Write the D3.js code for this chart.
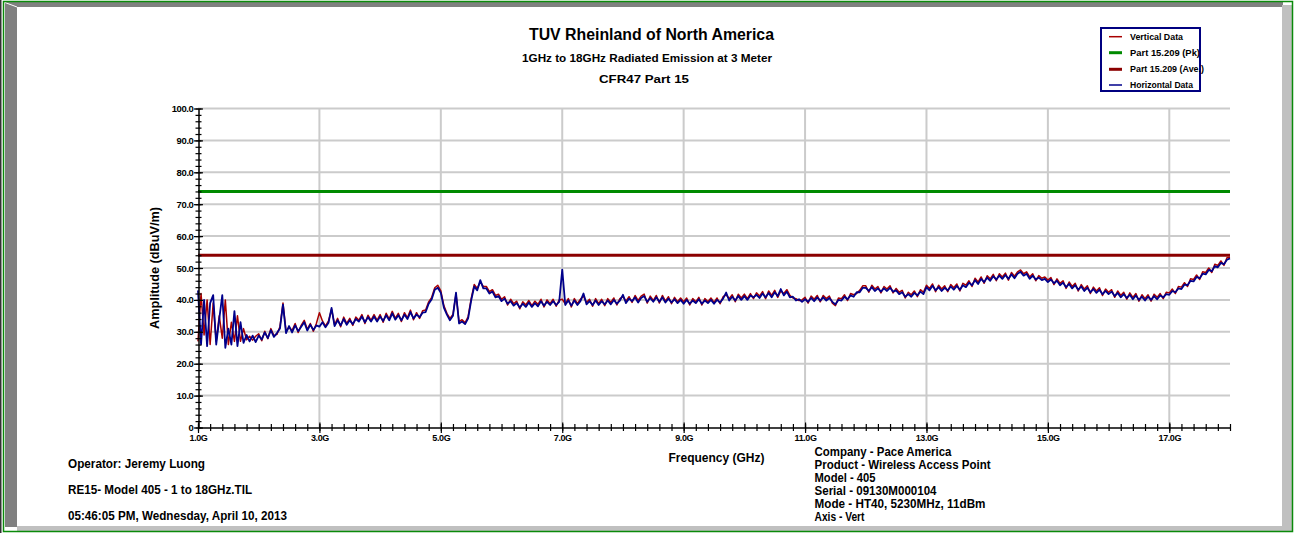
<!DOCTYPE html>
<html><head><meta charset="utf-8">
<script src="https://cdn.jsdelivr.net/npm/d3@7"></script>
<style>
body{margin:0;background:#fff;}
svg{display:block;}
text{font-family:"Liberation Sans",Arial,sans-serif;font-weight:bold;fill:#000;}
</style>
</head><body>
<svg id="chart" width="1296" height="533"></svg>
<script>
// ---- data ----
const freqStartGHz = 1.0, freqStepGHz = 0.05;
const horizontalData = [
 43,26,40,25.5,39,41.5,26,34,41.5,25,31,26,36.5,25.5,33,26.5,29,27,28.8,26.8,
 28.8,27.6,29.8,28,30.5,28.4,29.6,31,38.5,29.6,31.8,29.8,32,30.2,31.6,33,30.4,32.2,30.6,32,
 31.6,33,31.4,32.8,37.5,31.8,33.6,32,34,32.2,33.6,32.4,34,33.2,34.8,33,34.6,33.2,34.8,33.2,
 34.8,33.4,35.2,33.6,35.8,33.8,35.2,33.6,35.4,34,36.2,34.2,35.4,34.6,36,36.2,38.8,40.2,43.2,43.8,
 42.2,37.6,35.4,33.6,35,42.3,32.6,33.2,32.4,34.2,39.8,44.2,43,46.2,43.6,43.6,42,42.6,40.8,41.2,
 39.6,40.4,38.8,39.6,38.2,39,37.6,38.8,37.8,39.2,37.8,39,38,39.6,38.2,39.4,38.4,39.6,38.4,39.4,
 49.5,38.4,39.8,38.2,39.8,38.4,39.6,42,38.6,39.6,38.4,39.8,38.4,39.6,38.6,39.8,38.6,40,38.8,39.8,
 41.6,39,40.4,39.6,40.8,39.2,40.6,41.2,39.4,40.6,39.4,40.8,39.4,40.8,39.2,40.4,39.2,40.2,39,40,
 38.8,40,38.8,39.8,39,40.2,38.8,39.8,39,40,38.8,40,39.2,40.4,42.3,39.8,41,39.8,41.2,40,
 41.2,40,41.4,40.8,41.6,40.6,42,40.8,42.2,40.8,42.4,41.2,43.4,41.4,42.6,40.8,41,39.8,40.2,39.4,
 40.2,39.4,40.6,39.6,40.8,39.8,40.8,39.8,40.6,39.4,38.6,40,39.8,41,40.2,41.4,41,42.4,42.4,43.8,
 43.8,42.8,44,42.8,43.6,42.6,43.6,42.8,43.8,42.6,43,41.8,42.4,41,41.8,41,42.2,41.4,42.6,41.8,
 44,43,44.4,43,44,42.8,43.8,43,44.2,43.2,44.4,43.2,44.6,44,45.4,44.6,46.2,45,46.6,45.6,
 47,46,47.4,46.4,47.6,46.6,47.8,46.6,48,46.8,48.2,48.8,47.6,48.2,46.6,47.6,46.4,47,46.2,46.6,
 45.6,46.4,45.2,46,44.6,45.4,44,45,43.6,44.6,43.2,44.2,42.8,43.8,42.4,43.4,42.2,43.2,41.8,42.8,
 41.8,42.6,41.2,42.2,40.8,41.8,40.6,41.6,40.2,41.4,40,41,39.8,41,40,41.2,40.2,41.4,40.8,41.8,
 41.6,42.8,42.4,43.6,43.4,44.8,44.6,46,45.8,47.2,46.8,48.2,48,49.4,49,50.6,50.2,51.6,51.2,52.6,53
];
const verticalData = [
 27,42,29,40,26,39,27,35,28,40,26,33,27,35,27,31,27.5,28.6,27.4,28.6,
 29.4,27.2,30.2,27.8,31,28.8,29.2,31.6,39,30.2,31.4,30.4,32.6,29.8,32,33.6,30.8,32.6,30.2,32.6,
 36,33.4,31.8,33.4,37,32.2,34.2,31.6,34.6,32.6,34.2,32,34.6,33.6,35.4,32.6,35.2,33.6,35.4,33.6,
 35.4,33,35.8,34,36.4,34.2,35.8,33.2,36,34.4,36.8,33.8,36,34.2,36.6,36.8,39.4,40.8,43.8,44.6,
 42.8,38.2,35.8,34.2,35.4,41.8,33.2,33.8,32.8,34.8,40.4,44.8,43.6,45.6,44.2,44.2,42.6,43.2,41.4,41.8,
 40.2,41,38.4,40.2,38.8,39.6,37.2,39.4,38.4,39.8,38.2,39.6,38.6,40.2,37.8,40,38.8,40.2,38,40,
 40.2,38.8,40.4,37.8,40.4,38.8,40.2,41.2,39.2,40.2,38,40.4,38.8,40.2,38.2,40.4,39.2,40.6,38.4,40.4,
 41,39.6,41,39.2,41.4,39.8,41.2,41.8,39,41.2,39.8,41.4,39,41.4,39.6,41,38.8,40.8,39.4,40.6,
 39.4,40.6,38.4,40.4,39.4,40.8,38.4,40.4,39.4,40.6,39.2,40.6,38.8,41,41.6,40.4,41.6,39.4,41.8,40.6,
 41.8,40.4,42,40.4,42.2,41.2,42.6,40.4,42.8,41.4,43,40.8,42.8,42,43.2,41.4,40.6,40.4,39.8,40,
 40.8,39,41.2,40.2,41.4,39.4,41.4,40.4,41.2,39,38.2,40.6,40.4,41.6,39.8,42,41.6,42,43,44.4,
 44.4,42.4,44.6,43.4,44.2,42.2,44.2,43.4,44.4,42.2,43.6,42.4,43,40.6,42.4,41.6,42.8,41,43.2,42.4,
 44.6,43.6,45,42.6,44.6,43.4,44.4,42.6,44.8,43.8,45,42.8,45.2,44.6,46,44.2,46.8,45.6,47.2,45.2,
 47.6,46.6,48,46,48.2,47.2,48.4,46.2,48.6,47.4,48.8,49.4,48.2,48.8,47.2,48.2,46,47.6,46.8,47.2,
 46.2,47,44.8,46.6,45.2,46,43.6,45.6,44.2,45.2,42.8,44.8,43.4,44.4,42,44,42.8,43.8,41.4,43.4,
 42.4,43.2,40.8,42.8,41.4,42.4,40.2,42.2,40.8,42,39.6,41.6,40.4,41.6,39.6,41.8,40.8,42,40.4,42.4,
 42.2,43.4,42,44.2,44,45.4,44.2,46.6,46.4,47.8,46.4,48.8,48.6,50,48.6,51.2,50.8,52.2,50.8,53.2,53.4
];
const limitPk = 74;
const limitAve = 54;
const xMajorTicks = [1,3,5,7,9,11,13,15,17];
const xTickLabels = ["1.0G","3.0G","5.0G","7.0G","9.0G","11.0G","13.0G","15.0G","17.0G"];
const yMajorTicks = [0,10,20,30,40,50,60,70,80,90,100];
const yTickLabels = ["0","10.0","20.0","30.0","40.0","50.0","60.0","70.0","80.0","90.0","100.0"];
const legendItems = ["Vertical Data","Part 15.209 (Pk)","Part 15.209 (Ave.)","Horizontal Data"];
const titleLines = ["TUV Rheinland of North America","1GHz to 18GHz Radiated Emission at 3 Meter","CFR47 Part 15"];
const leftNotes = ["Operator: Jeremy Luong","RE15- Model 405 - 1 to 18GHz.TIL","05:46:05 PM, Wednesday, April 10, 2013"];
const rightNotes = ["Company - Pace America","Product - Wireless Access Point","Model - 405","Serial - 09130M000104","Mode - HT40, 5230MHz, 11dBm","Axis - Vert"];

// ---- drawing ----
const svg = d3.select("#chart");
const C = {vert:"#a80000", horiz:"#00008b", pk:"#008a00", ave:"#8b0000", grid:"#cbcbcb"};

// frame
svg.append("rect").attr("x",0).attr("y",0).attr("width",1296).attr("height",533).attr("fill","#fff");
svg.append("rect").attr("x",0).attr("y",0).attr("width",1.5).attr("height",533).attr("fill","#333");
svg.append("rect").attr("x",5).attr("y",2).attr("width",1278).attr("height",5).attr("fill","#808080");
svg.append("rect").attr("x",5).attr("y",2).attr("width",12).attr("height",525).attr("fill","#808080");
svg.append("rect").attr("x",1282).attr("y",5).attr("width",10).attr("height",526).attr("fill","#c0c0c0");
svg.append("rect").attr("x",17).attr("y",526).attr("width",1275).attr("height",5).attr("fill","#c0c0c0");
svg.append("line").attr("x1",5).attr("y1",2.5).attr("x2",17).attr("y2",7).attr("stroke","#fff").attr("stroke-width",1);
svg.append("rect").attr("x",3.5).attr("y",1.5).attr("width",1289).attr("height",530)
  .attr("fill","none").attr("stroke","#0a8a0a").attr("stroke-width",1.5);

const x = d3.scaleLinear().domain([1,18]).range([198,1230]);
const y = d3.scaleLinear().domain([0,100]).range([427.5,108.5]);

// grid
const g = svg.append("g");
g.selectAll(".hg").data(yMajorTicks.filter(d=>d>0)).join("line")
  .attr("x1",x(1)).attr("x2",x(18)).attr("y1",d=>y(d)).attr("y2",d=>y(d))
  .attr("stroke",C.grid).attr("stroke-width",2);
g.selectAll(".vg").data(xMajorTicks.filter(d=>d>1)).join("line")
  .attr("x1",d=>x(d)).attr("x2",d=>x(d)).attr("y1",y(100)).attr("y2",y(0))
  .attr("stroke",C.grid).attr("stroke-width",2);

// limits
[[limitPk,C.pk],[limitAve,C.ave]].forEach(([v,c])=>{
  svg.append("line").attr("x1",x(1)).attr("x2",x(18)).attr("y1",y(v)).attr("y2",y(v))
    .attr("stroke",c).attr("stroke-width",3);
});

// traces
const line = d3.line().x((d,i)=>x(freqStartGHz+i*freqStepGHz)).y(d=>y(d));
svg.append("path").datum(verticalData).attr("d",line).attr("fill","none")
  .attr("stroke",C.vert).attr("stroke-width",1.5).attr("stroke-linejoin","round");
svg.append("path").datum(horizontalData).attr("d",line).attr("fill","none")
  .attr("stroke",C.horiz).attr("stroke-width",1.8).attr("stroke-linejoin","round");

// axes
const xAxis = svg.append("g").attr("transform",`translate(0,${y(0)})`)
  .call(d3.axisBottom(x).tickValues(d3.range(0,86).map(i=>1+i*0.2)).tickFormat("").tickSize(0));
xAxis.select(".domain").attr("stroke","#000").attr("stroke-width",1.5);
xAxis.selectAll(".tick line").attr("y1",-3.5).attr("y2",3.5).attr("stroke","#000").attr("stroke-width",1.2);
const xAxisMaj = svg.append("g").attr("transform",`translate(0,${y(0)})`)
  .call(d3.axisBottom(x).tickValues(xMajorTicks).tickFormat((d,i)=>xTickLabels[i]).tickSize(0).tickPadding(7));
xAxisMaj.select(".domain").remove();
xAxisMaj.selectAll(".tick line").attr("y1",-5).attr("y2",5.5).attr("stroke","#000").attr("stroke-width",1.2);
xAxisMaj.selectAll(".tick text").attr("font-size","9px").attr("font-family","Liberation Sans, Arial").attr("font-weight","bold").attr("letter-spacing","-0.4");

const yAxis = svg.append("g").attr("transform",`translate(${x(1)+0.5},0)`)
  .call(d3.axisLeft(y).tickValues(d3.range(0,51).map(i=>i*2)).tickFormat("").tickSize(0));
yAxis.select(".domain").attr("stroke","#000").attr("stroke-width",1.5);
yAxis.selectAll(".tick line").attr("x1",-3).attr("x2",3).attr("stroke","#000").attr("stroke-width",1.2);
const yAxisMaj = svg.append("g").attr("transform",`translate(${x(1)+0.5},0)`)
  .call(d3.axisLeft(y).tickValues(yMajorTicks).tickFormat((d,i)=>yTickLabels[i]).tickSize(0).tickPadding(5));
yAxisMaj.select(".domain").remove();
yAxisMaj.selectAll(".tick line").attr("x1",-4.5).attr("x2",4.5).attr("stroke","#000").attr("stroke-width",1.2);
yAxisMaj.selectAll(".tick text").attr("font-size","9.5px").attr("font-family","Liberation Sans, Arial").attr("font-weight","bold").attr("letter-spacing","-0.4");

// text helper
function txt(s, xx, yy, size, len, anchor, rot){
  const t = svg.append("text").attr("x",xx).attr("y",yy).attr("font-size",size+"px").text(s);
  if(anchor) t.attr("text-anchor",anchor);
  if(len) t.attr("textLength",len).attr("lengthAdjust","spacingAndGlyphs");
  if(rot) t.attr("transform",`rotate(${rot},${xx},${yy})`);
  return t;
}
txt(titleLines[0], 651.5, 40, 16, 245, "middle");
txt(titleLines[1], 647, 61.5, 11.5, 250, "middle");
txt(titleLines[2], 644, 82.5, 11.5, 90, "middle");
txt("Amplitude (dBuV/m)", 158.5, 268, 12.5, 122, "middle", -90);
txt("Frequency (GHz)", 716.5, 461.5, 13, 96, "middle");
const lw = [137,184,219];
leftNotes.forEach((s,i)=>txt(s, 68, 467.5+i*26, 13, lw[i]));
const rw = [137,176,61,122,171,50];
rightNotes.forEach((s,i)=>txt(s, 814.5, 455.5+i*13, 12.5, rw[i]));

// legend
const lg = svg.append("g");
lg.append("rect").attr("x",1101).attr("y",28).attr("width",99).attr("height",63)
  .attr("fill","#fff").attr("stroke","#000080").attr("stroke-width",2);
const legStyle = [[C.vert,1.5],[C.pk,3],[C.ave,3],[C.horiz,1.5]];
const legW = [53,70,74,63];
const legY = [36.7,52.7,69.3,85];
legendItems.forEach((s,i)=>{
  lg.append("line").attr("x1",1109).attr("x2",1122).attr("y1",legY[i]).attr("y2",legY[i])
    .attr("stroke",legStyle[i][0]).attr("stroke-width",legStyle[i][1]);
  lg.append("text").attr("x",1130).attr("y",legY[i]+3).attr("font-size","8.5px")
    .attr("textLength",legW[i]).attr("lengthAdjust","spacingAndGlyphs").text(s);
});
</script>
</body></html>
